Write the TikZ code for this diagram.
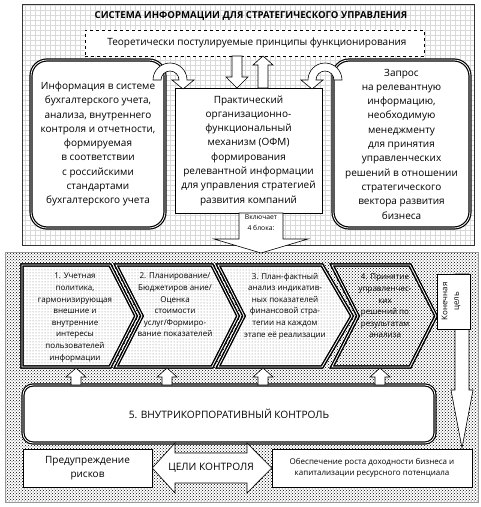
\documentclass[tikz,border=0pt]{standalone}
\usepackage{fontspec}
\setmainfont{Open Sans}
\usetikzlibrary{patterns}
\tikzset{
  every node/.style={inner sep=0pt, align=center},
  bodytxt/.style={font=\fontsize{10}{14.3}\selectfont},
  titletxt/.style={font=\bfseries\fontsize{9.6}{12}\selectfont},
  smalltxt/.style={font=\fontsize{8}{11.6}\selectfont},
  tinytxt/.style={font=\fontsize{6.8}{11}\selectfont},
  dblbox/.style={draw=black, line width=1.2pt, double=white, double distance=0.8pt, rounded corners=16pt, fill=white},
  plainbox/.style={draw=black, line width=0.6pt, fill=white},
  blk/.style={draw=black, line width=0.6pt, fill=white, line join=miter},
  chev/.style={draw=black, line width=1.3pt, double=white, double distance=0.8pt, line join=miter},
  chevfill/.style={pattern=dots, pattern color=black!50},
  bgdots/.style={pattern=crosshatch dots, pattern color=black},
}
\newcommand{\vblk}[6]{\draw[blk] (#1-#5,#2) -- (#1+#5,#2) -- (#1+#5,#3) -- (#1+#6,#3) -- (#1,#4) -- (#1-#6,#3) -- (#1-#5,#3) -- cycle;}
\begin{document}
\begin{tikzpicture}[x=1pt,y=-1pt]
\useasboundingbox (0,0) rectangle (481,507);
\fill[white] (0,0) rectangle (481,507);
% ---------- upper frame ----------
\draw[step=5pt, black!15, line width=0.3pt] (22,4) grid (474,245);
\node[draw=black!80, line width=0.6pt, minimum width=452, minimum height=241] (upper) at (248,124.5) {};
\node[titletxt] (title) at (251,16) {СИСТЕМА ИНФОРМАЦИИ ДЛЯ СТРАТЕГИЧЕСКОГО УПРАВЛЕНИЯ};
\node[draw=black, dashed, line width=0.6pt, fill=white, minimum width=339, minimum height=26] (theory) at (254.5,43) {};
\node[bodytxt] (theorytxt) at (257,43) {Теоретически постулируемые принципы функционирования};

\node[dblbox, minimum width=134, minimum height=168, bodytxt] (left) at (98,144)
 {Информация в системе\\бухгалтерского учета,\\анализа, внутреннего\\контроля и отчетности,\\формируемая\\в соответствии\\с российскими\\стандартами\\бухгалтерского учета};
\node[dblbox, minimum width=137, minimum height=168, bodytxt] (right) at (401.5,144)
 {Запрос\\на релевантную\\информацию,\\необходимую\\менеджменту\\для принятия\\управленческих\\решений в отношении\\стратегического\\вектора развития\\бизнеса};
\node[plainbox, minimum width=147, minimum height=125, bodytxt] (center) at (248.5,150.5)
 {Практический\\организационно-\\функциональный\\механизм (ОФМ)\\формирования\\релевантной информации\\для управления стратегией\\развития компаний};

% vertical arrows between theory and center
\vblk{237}{56}{77}{88}{5}{11}
\vblk{263}{88}{65}{56}{5}{10}

% curved arrows
\draw[blk] (153,80) arc[start angle=180, end angle=360, radius=17] -- (194,80) -- (183,89) -- (172,80) -- (179,80)
  arc[start angle=0, end angle=-180, radius=9] -- cycle;
\draw[blk] (342,80) arc[start angle=0, end angle=-180, radius=17] -- (301,80) -- (312,89) -- (323,80) -- (316,80)
  arc[start angle=180, end angle=360, radius=9] -- cycle;

% ---------- lower frame ----------
\node[draw=black!40, line width=0.5pt, bgdots, minimum width=473, minimum height=250] (lower) at (241.5,377) {};

% "includes" arrow
\vblk{261}{213}{239}{253}{22}{47}
\node[tinytxt] (incl) at (261,217) {Включает};
\node[tinytxt] (incl2) at (261,228) {4 блока:};

% chevrons
\draw[chev, fill=white] (22,265) -- (110,265) -- (136,316) -- (110,367) -- (22,367) -- cycle;
\draw[chev, chevfill] (22,265) -- (110,265) -- (136,316) -- (110,367) -- (22,367) -- cycle;
\draw[chev, fill=white] (116,265) -- (212,265) -- (238,316) -- (212,367) -- (116,367) -- (142,316) -- cycle;
\draw[chev, chevfill] (116,265) -- (212,265) -- (238,316) -- (212,367) -- (116,367) -- (142,316) -- cycle;
\draw[chev, fill=white] (218,265) -- (322,265) -- (352,316) -- (322,367) -- (218,367) -- (244,316) -- cycle;
\draw[chev, chevfill] (218,265) -- (322,265) -- (352,316) -- (322,367) -- (218,367) -- (244,316) -- cycle;
\draw[chev, fill=white] (332,265) -- (410,265) -- (436,316) -- (410,367) -- (332,367) -- (358,316) -- cycle;
\draw[chev, bgdots] (332,265) -- (410,265) -- (436,316) -- (410,367) -- (332,367) -- (358,316) -- cycle;

\node[smalltxt] (c1) at (75,317.5) {1. Учетная\\политика,\\гармонизирующая\\внешние и\\внутренние\\интересы\\пользователей\\информации};
\node[smalltxt] (c2) at (175,305) {2. Планирование/\\Бюджетиров ание/\\Оценка\\стоимости\\услуг/Формиро-\\вание показателей};
\node[smalltxt] (c3) at (285,306) {3. План-фактный\\анализ индикатив-\\ных показателей\\финансовой стра-\\тегии на каждом\\этапе её реализации};
\node[smalltxt] (c4) at (385,306) {4. Принятие\\управленчес-\\ких\\решений по\\результатам\\анализа};

% final goal arrow
\vblk{462}{274}{390}{448}{7}{11}
\node[plainbox, minimum width=33, minimum height=55] (goal) at (453.5,301.5) {};
\node[smalltxt, rotate=90] (goaltxt) at (451,301.5) {Конечная\\цель};

% control box
\node[dblbox, rounded corners=10pt, minimum width=412, minimum height=58, font=\fontsize{10.2}{12}\selectfont] (ctrl) at (229,414) {5. ВНУТРИКОРПОРАТИВНЫЙ КОНТРОЛЬ};

% up arrows from control to chevrons
\vblk{76}{385}{377}{368}{5}{10}
\vblk{167}{385}{377}{368}{5}{10}
\vblk{263}{385}{377}{368}{5}{10}
\vblk{380}{385}{377}{368}{5}{10}

% bottom row
\node[plainbox, minimum width=129, minimum height=38, bodytxt] (risk) at (87.5,468) {Предупреждение\\рисков};
\node[plainbox, minimum width=200, minimum height=38, smalltxt] (growth) at (372,468) {Обеспечение роста доходности бизнеса и\\капитализации ресурсного потенциала};
\draw[blk] (risk.east) -- (175,443) -- (175,453) -- (247,453) -- (247,443) -- (growth.west) -- (247,493) -- (247,483) -- (175,483) -- (175,493) -- cycle;
\node[font=\fontsize{10.2}{12}\selectfont] (aims) at (211,468) {ЦЕЛИ КОНТРОЛЯ};
\end{tikzpicture}
\end{document}
